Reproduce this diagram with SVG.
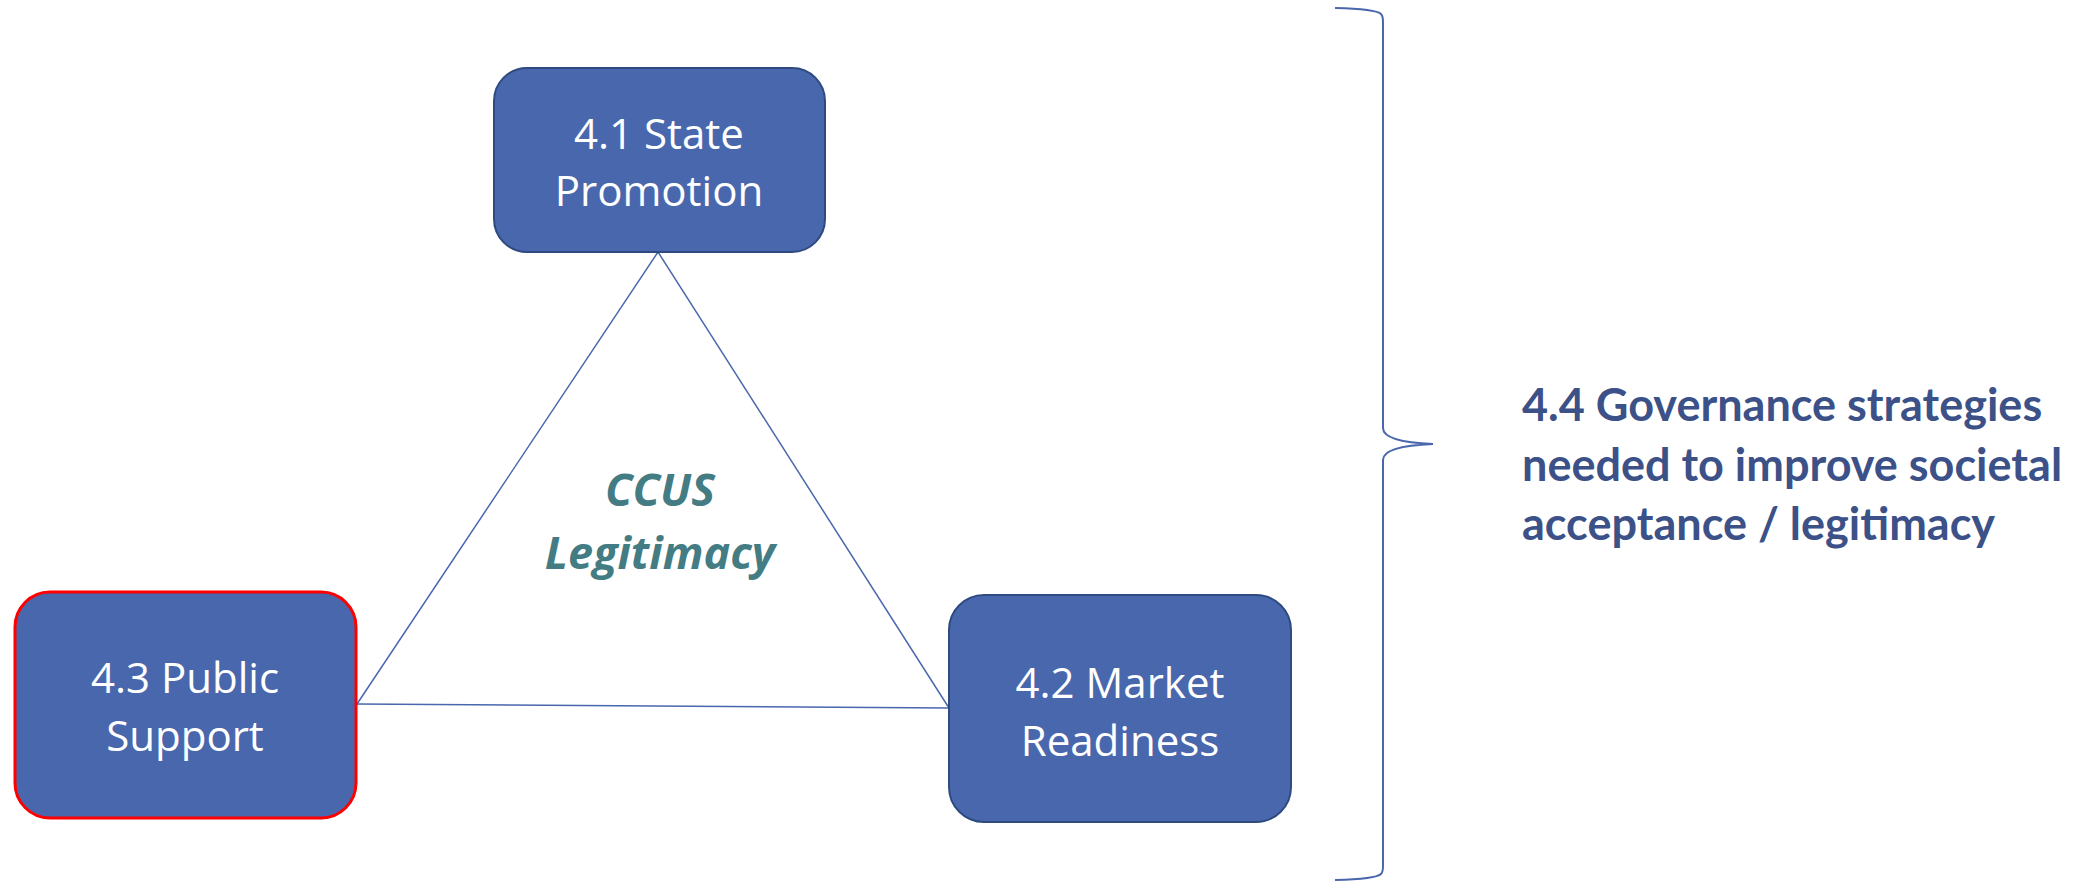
<svg xmlns="http://www.w3.org/2000/svg" width="2095" height="881" viewBox="0 0 2095 881">
  <style>
    .box { fill: #4967AD; stroke: #2F4A80; stroke-width: 2; }
    .box-hl { fill: #4967AD; stroke: #FF0000; stroke-width: 3; }
    .lbl { font-family: "Open Sans", "Noto Sans", sans-serif; font-size: 42px; fill: #FFFFFF; text-anchor: middle; }
    .edge { stroke: #4967AD; stroke-width: 1.5; fill: none; }
    .brace { stroke: #4967AD; stroke-width: 2; fill: none; }
    .center { font-family: "Open Sans", "Noto Sans", sans-serif; font-size: 45px; font-weight: bold; font-style: italic; fill: #447C84; text-anchor: middle; }
    .side { font-family: "Lato", "Open Sans", sans-serif; font-size: 45px; font-weight: bold; fill: #3B5188; }
  </style>
  <rect width="2095" height="881" fill="#FFFFFF"/>

  <!-- triangle linking the three pillars -->
  <g id="connectors">
    <line class="edge" x1="658" y1="252" x2="357" y2="704"/>
    <line class="edge" x1="658" y1="252" x2="949" y2="708"/>
    <line class="edge" x1="357" y1="704" x2="949" y2="708"/>
  </g>

  <g id="center-label">
    <text class="center" x="660" y="506" font-size="50">CCUS</text>
    <text class="center" x="660" y="569">Legitimacy</text>
  </g>

  <g id="node-state-promotion">
    <rect class="box" x="494" y="68" width="331" height="184" rx="33"/>
    <text class="lbl" x="659" y="149">4.1 State</text>
    <text class="lbl" x="659" y="206">Promotion</text>
  </g>

  <g id="node-public-support">
    <rect class="box-hl" x="15" y="592" width="341" height="226" rx="35"/>
    <text class="lbl" x="185" y="693">4.3 Public</text>
    <text class="lbl" x="185" y="751">Support</text>
  </g>

  <g id="node-market-readiness">
    <rect class="box" x="949" y="595" width="342" height="227" rx="35"/>
    <text class="lbl" x="1120" y="698">4.2 Market</text>
    <text class="lbl" x="1120" y="756">Readiness</text>
  </g>

  <!-- right-hand curly brace grouping the pillars -->
  <g id="brace">
    <path class="brace" d="M1335,8 Q1376,9 1381,14 Q1383,16 1383,22 L1383,428 Q1383,442 1433,444 Q1383,446 1383,460 L1383,866 Q1383,872 1381,874 Q1376,879 1335,880"/>
  </g>

  <g id="node-governance">
    <text class="side" x="1522" y="421">4.4 Governance strategies</text>
    <text class="side" x="1522" y="481">needed to improve societal</text>
    <text class="side" x="1522" y="540">acceptance / legitimacy</text>
  </g>
</svg>
